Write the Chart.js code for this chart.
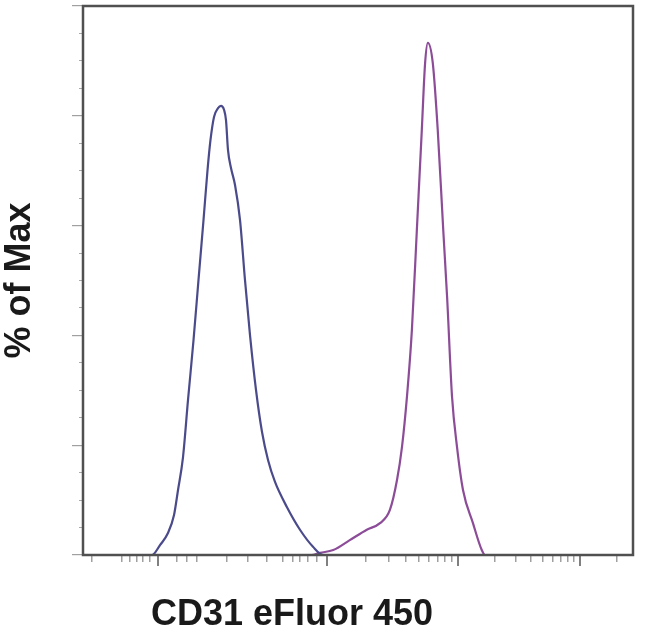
<!DOCTYPE html>
<html>
<head>
<meta charset="utf-8">
<script src="https://cdn.jsdelivr.net/npm/chart.js@4.4.1/dist/chart.umd.min.js"></script>
<style>
  html, body { margin: 0; padding: 0; background: #ffffff; }
  #wrap { width: 650px; height: 635px; position: relative; }
</style>
</head>
<body>
<div id="wrap"><canvas id="c"></canvas></div>
<script>
// Channel axis runs 0..1000 (display units), % of Max 0..100
const xLabel = "CD31 eFluor 450";
const yLabel = "% of Max";

const isotypeX = [0, 110, 125.5, 140.0, 154.5, 165.5, 172.7, 181.8, 190.9, 200.9, 210.0, 219.1, 226.4, 231.8, 238.2, 245.5, 250.9, 256.4, 260.0, 263.6, 269.1, 276.4, 285.5, 294.5, 303.6, 314.5, 325.5, 336.4, 349.1, 370.9, 394.5, 418.2, 436.4, 1000];
const isotypeY = [0, 0, 0, 1.8, 4.0, 7.3, 11.8, 17.8, 28.2, 39.1, 50.1, 61.0, 70.1, 75.6, 79.8, 81.4, 81.8, 81.1, 79.2, 73.8, 70.5, 67.4, 61.0, 50.1, 40.1, 30.1, 22.4, 17.3, 13.3, 8.7, 4.6, 1.5, 0, 0];

const stainedX = [0, 415, 431, 455, 485, 516, 540, 558, 571, 580, 589, 598, 607, 616, 622, 627, 636, 645, 655, 662, 671, 680, 691, 709, 725, 731, 1000];
const stainedY = [0, 0, 0.4, 0.9, 2.7, 4.6, 5.8, 8.2, 13.7, 19.7, 28.8, 41.0, 59.2, 77.4, 89.6, 93.3, 89.6, 77.4, 59.2, 47.0, 28.8, 19.7, 11.8, 5.8, 0.9, 0, 0];

const xMajorTicks = [136.4, 443.6, 681.8, 903.6];
const xMinorTicks = [16.4, 70.9, 85.5, 98.2, 109.1, 121.8, 170.9, 189.1, 207.3, 261.8, 300, 334.5, 363.6, 381.8, 394.5, 409.1, 425.5,
  514.5, 556.4, 587.3, 610.9, 629.1, 645.5, 658.2, 670.9, 749.1, 787.3, 814.5, 836.4, 854.5, 869.1, 881.8, 892.7, 970.9];
const yMajorTicks = [0, 20, 40, 60, 80, 100];
const yMinorTicks = [5, 10, 15, 25, 30, 35, 45, 50, 55, 65, 70, 75, 85, 90, 95];

const toPts = (xs, ys) => xs.map((x, i) => ({ x: x, y: ys[i] }));

const framePlugin = {
  id: 'frame',
  afterDatasetsDraw(chart) {
    const a = chart.chartArea, ctx = chart.ctx;
    ctx.save();
    ctx.strokeStyle = '#505050';
    ctx.lineWidth = 2.5;
    ctx.strokeRect(a.left, a.top, a.right - a.left, a.bottom - a.top);
    ctx.restore();
  }
};

const xTitlePlugin = {
  id: 'xTitle',
  afterDraw(chart) {
    const ctx = chart.ctx;
    ctx.save();
    ctx.fillStyle = '#1a1a1a';
    ctx.font = 'bold 36px "Liberation Sans", Arial, sans-serif';
    ctx.textAlign = 'center';
    ctx.textBaseline = 'middle';
    ctx.fillText(xLabel, 292, 615);
    ctx.restore();
  }
};

function fixedTicks(values) {
  return function (scale) { scale.ticks = values.map(v => ({ value: v })); };
}

new Chart(document.getElementById('c'), {
  type: 'line',
  data: {
    datasets: [
      { data: toPts(isotypeX, isotypeY), borderColor: '#4b4b8c', borderWidth: 2.2, pointRadius: 0, fill: false, cubicInterpolationMode: 'monotone' },
      { data: toPts(stainedX, stainedY), borderColor: '#8c4c98', borderWidth: 2.2, pointRadius: 0, fill: false, cubicInterpolationMode: 'monotone' }
    ]
  },
  options: {
    responsive: true,
    maintainAspectRatio: false,
    animation: false,
    layout: { padding: { left: 0, right: 17, top: 6, bottom: 0 } },
    plugins: { legend: { display: false }, tooltip: { enabled: false } },
    scales: {
      x: {
        type: 'linear', min: 0, max: 1000, position: 'bottom', weight: 0,
        afterBuildTicks: fixedTicks(xMinorTicks),
        afterFit(s) { s.height = 0; },
        ticks: { display: false },
        border: { display: false },
        grid: { drawOnChartArea: false, drawTicks: true, tickLength: 7, color: '#a0a0a0', lineWidth: 1.5 }
      },
      xMajor: {
        type: 'linear', min: 0, max: 1000, position: 'bottom', weight: 1,
        afterBuildTicks: fixedTicks(xMajorTicks),
        afterFit(s) { s.height = 80; },
        ticks: { display: false },
        border: { display: false },
        grid: { drawOnChartArea: false, drawTicks: true, tickLength: 11, color: '#808080', lineWidth: 2 }
      },
      y: {
        type: 'linear', min: 0, max: 100, position: 'left', weight: 0,
        afterBuildTicks: fixedTicks(yMinorTicks),
        afterFit(s) { s.width = 0; },
        ticks: { display: false },
        border: { display: false },
        grid: { drawOnChartArea: false, drawTicks: true, tickLength: 4, color: '#a8a8a8', lineWidth: 1 }
      },
      yMajor: {
        type: 'linear', min: 0, max: 100, position: 'left', weight: 1,
        afterBuildTicks: fixedTicks(yMajorTicks),
        afterFit(s) { s.width = 83; },
        ticks: { display: false },
        border: { display: false },
        grid: { drawOnChartArea: false, drawTicks: true, tickLength: 11, color: '#a0a0a0', lineWidth: 1.2 },
        title: {
          display: true, text: yLabel, color: '#1a1a1a',
          font: { family: '"Liberation Sans", Arial, sans-serif', size: 36, weight: 'bold', lineHeight: 1 },
          padding: { top: 2, bottom: 0 }
        }
      }
    }
  },
  plugins: [framePlugin, xTitlePlugin]
});
</script>
</body>
</html>
